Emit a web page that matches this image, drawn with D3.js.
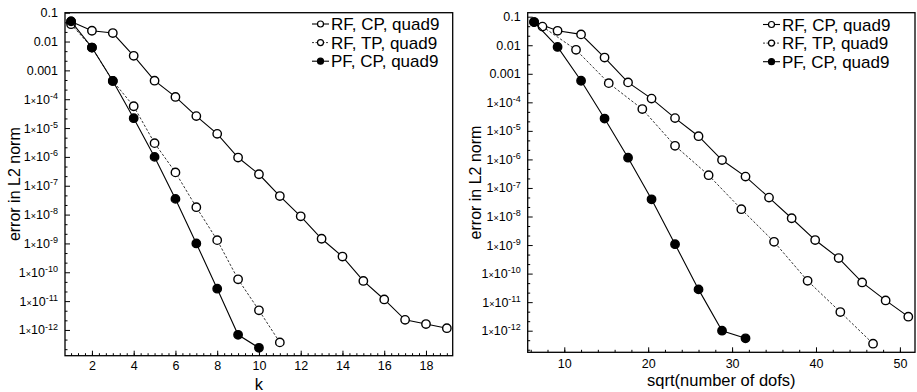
<!DOCTYPE html>
<html><head><meta charset="utf-8">
<script src="https://cdn.jsdelivr.net/npm/d3@7"></script>
<style>
body{margin:0;background:#fff}
svg{display:block}
text{font-family:"Liberation Sans",Arial,Helvetica,sans-serif;fill:#000}
</style>
</head><body><svg id="c" width="917" height="392"></svg>
<script>
// ---------- data ----------
const seriesNames = ["RF, CP, quad9", "RF, TP, quad9", "PF, CP, quad9"];
const yTickValues = [1e-1,1e-2,1e-3,1e-4,1e-5,1e-6,1e-7,1e-8,1e-9,1e-10,1e-11,1e-12];
const yTickExponents = [-1,-2,-3,-4,-5,-6,-7,-8,-9,-10,-11,-12];

// left panel: error vs k
const kRFCP = [1,2,3,4,5,6,7,8,9,10,11,12,13,14,15,16,17,18,19];
const errRFCP_k = [0.05,0.0237,0.0197,0.0032,4.4e-4,1.2e-4,2.6e-5,6.3e-6,9.5e-7,2.5e-7,4.4e-8,8.7e-9,1.45e-9,3.5e-10,5.0e-11,1.14e-11,2.24e-12,1.6e-12,1.15e-12];
const kRFTP = [1,2,3,4,5,6,7,8,9,10,11];
const errRFTP_k = [0.04,0.0062,4.3e-4,5.7e-5,3.0e-6,2.9e-7,1.8e-8,1.3e-9,5.7e-11,4.8e-12,3.7e-13];
const kPFCP = [1,2,3,4,5,6,7,8,9,10];
const errPFCP_k = [0.05,0.0062,4.3e-4,2.2e-5,1.0e-6,3.5e-8,1.0e-9,2.7e-11,6.8e-13,2.4e-13];
const leftXTicks = [2,4,6,8,10,12,14,16,18];

// right panel: error vs sqrt(number of dofs)
const dofsRFCP = [6.4,9.2,12.0,14.8,17.6,20.4,23.2,26.0,28.8,31.6,34.4,37.1,39.9,42.7,45.5,48.3,51.0];
const errRFCP_d = [0.065,0.032,0.024,0.0037,5.0e-4,1.35e-4,2.8e-5,6.5e-6,9.5e-7,2.5e-7,4.6e-8,8.7e-9,1.5e-9,3.5e-10,4.9e-11,1.15e-11,3.1e-12];
const dofsRFTP = [7.4,11.4,15.3,19.3,23.2,27.2,31.1,35.0,39.0,42.9,46.8];
const errRFTP_d = [0.045,0.0069,4.7e-4,5.8e-5,3.0e-6,2.8e-7,1.8e-8,1.3e-9,5.6e-11,4.5e-12,3.5e-13];
const dofsPFCP = [6.4,9.2,12.0,14.8,17.6,20.4,23.2,26.0,28.8,31.6];
const errPFCP_d = [0.065,0.0087,5.7e-4,2.7e-5,1.15e-6,4.0e-8,1.07e-9,2.8e-11,1.0e-12,5.4e-13];
const rightXTicks = [10,20,30,40,50];

// ---------- drawing ----------
const svg = d3.select("#c");

function zip(xs, ys){ return xs.map((x,i)=>({x, y: ys[i]})); }

function drawPanel(cfg){
  const g = svg.append("g");
  const x = d3.scaleLinear().domain(cfg.xDomain).range([cfg.x0, cfg.x1]);
  const y = d3.scaleLog().domain(cfg.yDomain).range([cfg.y1, cfg.y0]);

  // minor x ticks
  const xMinor = [];
  for (let v = Math.ceil(cfg.xDomain[0]/cfg.xMinorStep)*cfg.xMinorStep; v <= cfg.xDomain[1]; v += cfg.xMinorStep) xMinor.push(+v.toFixed(6));
  g.append("g").attr("transform", `translate(0,${cfg.y1})`)
    .call(d3.axisBottom(x).tickValues(xMinor).tickSizeInner(-2.5).tickSizeOuter(0).tickFormat(""))
    .call(s => s.select(".domain").remove())
    .call(s => s.selectAll("line").attr("stroke","#000"));
  // major x ticks
  g.append("g").attr("transform", `translate(0,${cfg.y1})`)
    .call(d3.axisBottom(x).tickValues(cfg.xTicks).tickSizeInner(-5).tickSizeOuter(0).tickFormat(d3.format("d")))
    .call(s => s.select(".domain").remove())
    .call(s => s.selectAll("line").attr("stroke","#000"))
    .call(s => s.selectAll("text").attr("y", cfg.xLabelDy).attr("dy", 0).attr("font-size", 12.5)
      .style("font-family", '"Liberation Sans",Arial,sans-serif'));

  // minor y ticks (thirds of a decade)
  const yMinor = [];
  for (let e = -14; e <= 0; e++) {
    [1/3, 2/3].forEach(f => {
      const v = Math.pow(10, e + f);
      if (v >= cfg.yDomain[0] && v <= cfg.yDomain[1]) yMinor.push(v);
    });
  }
  g.append("g").attr("transform", `translate(${cfg.x0},0)`)
    .call(d3.axisLeft(y).tickValues(yMinor).tickSizeInner(-2.5).tickSizeOuter(0).tickFormat(""))
    .call(s => s.select(".domain").remove())
    .call(s => s.selectAll("line").attr("stroke","#000"));
  const yMajor = yTickValues.filter(v => v >= cfg.yDomain[0] && v <= cfg.yDomain[1]);
  g.append("g").attr("transform", `translate(${cfg.x0},0)`)
    .call(d3.axisLeft(y).tickValues(yMajor).tickSizeInner(-5).tickSizeOuter(0).tickFormat(""))
    .call(s => s.select(".domain").remove())
    .call(s => s.selectAll("line").attr("stroke","#000"));

  // y tick labels
  yTickValues.forEach((v, i) => {
    if (v < cfg.yDomain[0] || v > cfg.yDomain[1]) return;
    const e = yTickExponents[i];
    const t = g.append("text").attr("x", cfg.x0 - 7).attr("y", y(v)).attr("dy", "0.36em")
      .attr("text-anchor", "end").attr("font-size", 12.5);
    if (e >= -3) t.text(String(v));
    else {
      t.append("tspan").text("1");
      t.append("tspan").attr("font-size", 9).text("×");
      t.append("tspan").text("10");
      t.append("tspan").attr("font-size", 9).attr("dy", "-0.55em").text(String(e));
    }
  });

  // frame
  g.append("rect").attr("x", cfg.x0).attr("y", cfg.y0)
    .attr("width", cfg.x1 - cfg.x0).attr("height", cfg.y1 - cfg.y0)
    .attr("fill", "none").attr("stroke", "#000").attr("stroke-width", 1.3);

  // series
  const line = d3.line().x(d => x(d.x)).y(d => y(d.y));
  cfg.series.forEach(s => {
    g.append("path").datum(s.data).attr("d", line).attr("fill", "none")
      .attr("stroke", "#000").attr("stroke-width", s.dash ? 0.8 : 1.1)
      .attr("stroke-dasharray", s.dash ? "2.5,1.8" : null);
    g.selectAll(null).data(s.data).enter().append("circle")
      .attr("cx", d => x(d.x)).attr("cy", d => y(d.y)).attr("r", 4.2)
      .attr("fill", s.filled ? "#000" : "#fff").attr("stroke", "#000").attr("stroke-width", 1.4);
  });

  // legend
  cfg.series.forEach((s, i) => {
    const ly = cfg.legendY + i * 18.6;
    g.append("line").attr("x1", cfg.legendX).attr("x2", cfg.legendX + 17).attr("y1", ly).attr("y2", ly)
      .attr("stroke", "#000").attr("stroke-width", s.dash ? 0.8 : 1.1)
      .attr("stroke-dasharray", s.dash ? "2,1.5" : null);
    g.append("circle").attr("cx", cfg.legendX + 8.5).attr("cy", ly).attr("r", 3)
      .attr("fill", s.filled ? "#000" : "#fff").attr("stroke", "#000").attr("stroke-width", 1.2);
    g.append("text").attr("x", cfg.legendX + 19).attr("y", ly).attr("dy", "0.36em")
      .attr("font-size", 17).text(s.name);
  });

  // axis titles
  g.append("text").attr("x", (cfg.x0 + cfg.x1) / 2).attr("y", cfg.xTitleY)
    .attr("text-anchor", "middle").attr("font-size", 16.5).text(cfg.xTitle);
  g.append("text").attr("transform", `translate(${cfg.yTitleX},${(cfg.y0 + cfg.y1) / 2}) rotate(-90)`)
    .attr("text-anchor", "middle").attr("font-size", 16).text("error in L2 norm");
}

drawPanel({
  x0: 65, x1: 452.7, y0: 12.7, y1: 355.7,
  xDomain: [0.71, 19.28], yDomain: [1.28e-13, 0.1],
  xTicks: leftXTicks, xMinorStep: 1/3, xLabelDy: 14.5,
  xTitle: "k", xTitleY: 390, yTitleX: 20,
  legendX: 312, legendY: 24,
  series: [
    {name: seriesNames[0], data: zip(kRFCP, errRFCP_k), filled: false, dash: false},
    {name: seriesNames[1], data: zip(kRFTP, errRFTP_k), filled: false, dash: true},
    {name: seriesNames[2], data: zip(kPFCP, errPFCP_k), filled: true, dash: false}
  ]
});

drawPanel({
  x0: 527.7, x1: 915, y0: 12.7, y1: 352.3,
  xDomain: [5.64, 51.8], yDomain: [1.75e-13, 0.138],
  xTicks: rightXTicks, xMinorStep: 2, xLabelDy: 15.5,
  xTitle: "sqrt(number of dofs)", xTitleY: 386, yTitleX: 481,
  legendX: 763, legendY: 24.5,
  series: [
    {name: seriesNames[0], data: zip(dofsRFCP, errRFCP_d), filled: false, dash: false},
    {name: seriesNames[1], data: zip(dofsRFTP, errRFTP_d), filled: false, dash: true},
    {name: seriesNames[2], data: zip(dofsPFCP, errPFCP_d), filled: true, dash: false}
  ]
});
</script>
</body></html>
